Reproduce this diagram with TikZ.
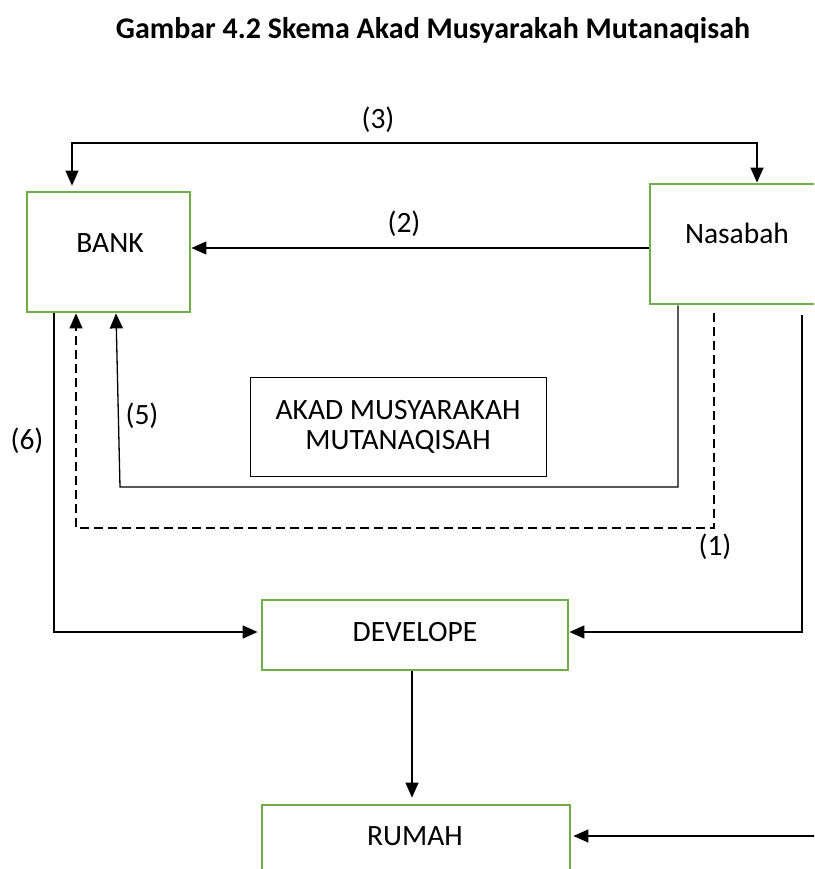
\documentclass[tikz,border=0pt]{standalone}
\usepackage{fontspec}
\setmainfont{Carlito}
\usetikzlibrary{arrows.meta}
\definecolor{gr}{HTML}{70AD47}
\begin{document}
\begin{tikzpicture}[x=1pt,y=-1pt,
  gbox/.style={draw=gr, line width=2.8pt, inner sep=0pt},
  conn/.style={line width=1.3pt},
  tip/.tip={Triangle[length=15pt,width=13pt]},
  arr/.style={-tip},
  txt/.style={font=\fontsize{29.5}{30}\selectfont, inner sep=0pt, align=center}]
\useasboundingbox (0,0) rectangle (814,869);
\clip (0,0) rectangle (814,869);
\node[font=\bfseries\fontsize{30}{36}\selectfont, inner sep=0pt] (title) at (433,30) {Gambar 4.2 Skema Akad Musyarakah Mutanaqisah};
% boxes
\node[gbox, minimum width=163pt, minimum height=120pt] (bank) at (108.5,252) {};
\node[txt] (banktxt) at (110,243) {BANK};
\node[gbox, minimum width=180pt, minimum height=120pt] (nas) at (740,244) {};
\node[txt] (nastxt) at (737,233) {Nasabah};
\node[draw, line width=1pt, minimum width=296pt, minimum height=99pt, txt, inner sep=0pt] (akad) at (398,426.5) {AKAD MUSYARAKAH\\MUTANAQISAH};
\node[gbox, minimum width=306pt, minimum height=70pt] (dev) at (415,635) {};
\node[txt] (devtxt) at (415,632) {DEVELOPE};
\node[gbox, minimum width=308pt, minimum height=100pt] (rum) at (416,855) {};
\node[txt] (rumtxt) at (415,836) {RUMAH};
% coordinates
\coordinate (c3l) at (72,143);
\coordinate (c3r) at (757,143);
\coordinate (c2) at (400,248);
\coordinate (c5a) at (678,487);
\coordinate (c5b) at (120,487);
\coordinate (c5t) at (116,0);
\coordinate (c1a) at (714,528);
\coordinate (c1b) at (76,528);
\coordinate (c6) at (54,632);
\coordinate (c7) at (802,632);
\coordinate (c8) at (412,0);
\coordinate (c9) at (830,836);
% connectors
\draw[conn, tip-tip, shorten <=5pt] (bank.north -| c3l) -- (c3l) -- (c3r) -- (nas.north -| c3r);
\draw[conn, arr] (nas.west |- c2) -- (bank.east |- c2);
\draw[conn, arr] (nas.south -| c5a) -- (c5a) -- (c5b) -- (bank.south -| c5t);
\draw[conn, arr, dash pattern=on 9pt off 5pt] ([yshift=-8pt]nas.south -| c1a) -- (c1a) -- (c1b) -- (bank.south -| c1b);
\draw[conn, arr, shorten >=3pt] (bank.south -| c6) -- (c6) -- (dev.west |- c6);
\draw[conn, arr] ([yshift=-10pt]nas.south -| c7) -- (c7) -- (dev.east |- c7);
\draw[conn, arr, shorten >=6pt] (dev.south -| c8) -- (rum.north -| c8);
\draw[conn, arr, shorten >=2pt] (c9) -- (rum.east |- c9);
% labels
\node[txt] (l3) at (378,120) {(3)};
\node[txt] (l2) at (404,224) {(2)};
\node[txt] (l5) at (142,416) {(5)};
\node[txt] (l6) at (27,441) {(6)};
\node[txt] (l1) at (715,547) {(1)};
\end{tikzpicture}
\end{document}
